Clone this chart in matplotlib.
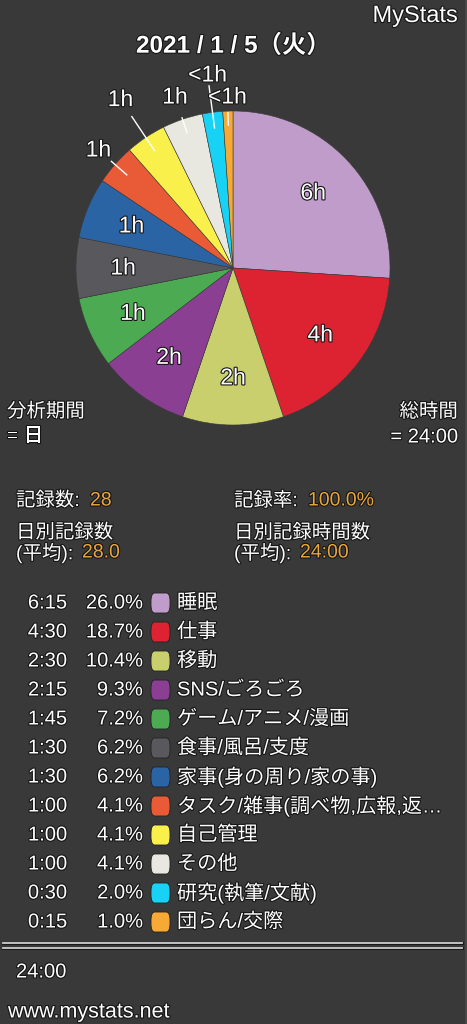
import matplotlib
matplotlib.use("Agg")
import matplotlib.pyplot as plt
import matplotlib.patheffects as pe
import numpy as np
from matplotlib.patches import FancyBboxPatch, Rectangle

plt.rcParams['font.family'] = ['Liberation Sans', 'Noto Sans CJK JP', 'DejaVu Sans']

# data
categories = ["睡眠", "仕事", "移動", "SNS/ごろごろ", "ゲーム/アニメ/漫画", "食事/風呂/支度",
              "家事(身の周り/家の事)", "タスク/雑事(調べ物,広報,返…", "自己管理", "その他",
              "研究(執筆/文献)", "団らん/交際"]
minutes = [375, 270, 150, 135, 105, 90, 90, 60, 60, 60, 30, 15]
time_labels = ["6:15", "4:30", "2:30", "2:15", "1:45", "1:30", "1:30", "1:00", "1:00", "1:00", "0:30", "0:15"]
pct_labels = ["26.0%", "18.7%", "10.4%", "9.3%", "7.2%", "6.2%", "6.2%", "4.1%", "4.1%", "4.1%", "2.0%", "1.0%"]
hour_labels = ["6h", "4h", "2h", "2h", "1h", "1h", "1h", "1h", "1h", "1h", "<1h", "<1h"]
colors = ["#bf9cc9", "#dd2232", "#c9cf6c", "#8a3f93", "#4caa52", "#59585c",
          "#2a64a5", "#e85b36", "#f9f04c", "#e8e7e0", "#18d2f5", "#f6aa35"]

# label layout: outside labels (line start, line end, text radius)
outside = {7: (0.90, 1.03, 1.14), 8: (0.90, 1.16, 1.29), 9: (0.91, 1.01, 1.15),
           10: (0.90, 1.17, 1.24), 11: (0.91, 0.99, 1.09)}

W, H = 467, 1024
BG = "#393939"
ORANGE = "#eba63c"
fig = plt.figure(figsize=(W / 100, H / 100), dpi=100, facecolor=BG)
fig.patches.append(Rectangle((465 / W, 0), 2 / W, 1, transform=fig.transFigure,
                             facecolor="#474747", edgecolor="none"))

shadow = [pe.withStroke(linewidth=1.6, foreground="#151515")]


def txt(x, y, s, size=14.5, color="white", ha="left", weight="normal"):
    return fig.text(x / W, 1 - y / H, s, fontsize=size, color=color, ha=ha, va="center",
                    fontweight=weight, path_effects=shadow)


# pie
cx, cy, R = 233, 268, 157
ax = fig.add_axes([(cx - R) / W, 1 - (cy + R) / H, 2 * R / W, 2 * R / H])
wedges, _ = ax.pie(minutes, colors=colors, startangle=90, counterclock=False,
                   radius=1, wedgeprops=dict(linewidth=0.4, edgecolor="#3a3a3a"))
ax.set_xlim(-1, 1)
ax.set_ylim(-1, 1)
ax.set_aspect("equal")
ax.axis("off")

for i, w in enumerate(wedges):
    ang = np.deg2rad((w.theta1 + w.theta2) / 2)
    c, s = np.cos(ang), np.sin(ang)
    if i in outside:
        r0, r1, rt = outside[i]
        ax.plot([r0 * c, r1 * c], [r0 * s, r1 * s], color="white", lw=1.0, clip_on=False)
        ax.text(rt * c, rt * s, hour_labels[i], ha="center", va="center", fontsize=16.5,
                color="white", path_effects=shadow, clip_on=False)
    else:
        ax.text(0.7 * c, 0.7 * s, hour_labels[i], ha="center", va="center", fontsize=16.5,
                color="white", path_effects=shadow)

# header
txt(458, 16, "MyStats", size=17, ha="right")
txt(233, 46, "2021 / 1 / 5（火）", size=17.5, ha="center", weight="bold")

txt(7, 412, "分析期間", size=14)
txt(7, 437, "= 日", size=14)
txt(458, 412, "総時間", size=14, ha="right")
txt(458, 437, "= 24:00", size=14.5, ha="right")

# stats
stats = [(16, 501, "記録数: ", "28", 90), (234, 501, "記録率: ", "100.0%", 308),
         (16, 553, "(平均): ", "28.0", 82), (234, 553, "(平均): ", "24:00", 300)]
for x, y, s1, s2, x2 in stats:
    txt(x, y, s1, size=14)
    txt(x2, y, s2, size=14, color=ORANGE)
txt(16, 533, "日別記録数", size=14)
txt(234, 533, "日別記録時間数", size=14)

# legend table
for i in range(len(categories)):
    y = 603 + 29 * i
    txt(67, y, time_labels[i], ha="right")
    txt(143, y, pct_labels[i], ha="right")
    box = FancyBboxPatch((151 / W, 1 - (y + 10) / H), 19 / W, 20 / H,
                         boxstyle="round,pad=0,rounding_size=0.008",
                         transform=fig.transFigure, facecolor=colors[i],
                         edgecolor="#222222", linewidth=0.6)
    fig.patches.append(box)
    txt(177, y, categories[i])

# double rule
for yy in (943, 948):
    fig.add_artist(plt.Line2D([3 / W, 462 / W], [1 - yy / H, 1 - yy / H],
                              color="#cfcfcf", lw=1.3, transform=fig.transFigure,
                              path_effects=[pe.withStroke(linewidth=2.2, foreground="#1a1a1a")]))

txt(16, 972, "24:00", size=14.5)
txt(8, 1012, "www.mystats.net", size=15.5)

fig.savefig("out.png", dpi=100, facecolor=BG)
